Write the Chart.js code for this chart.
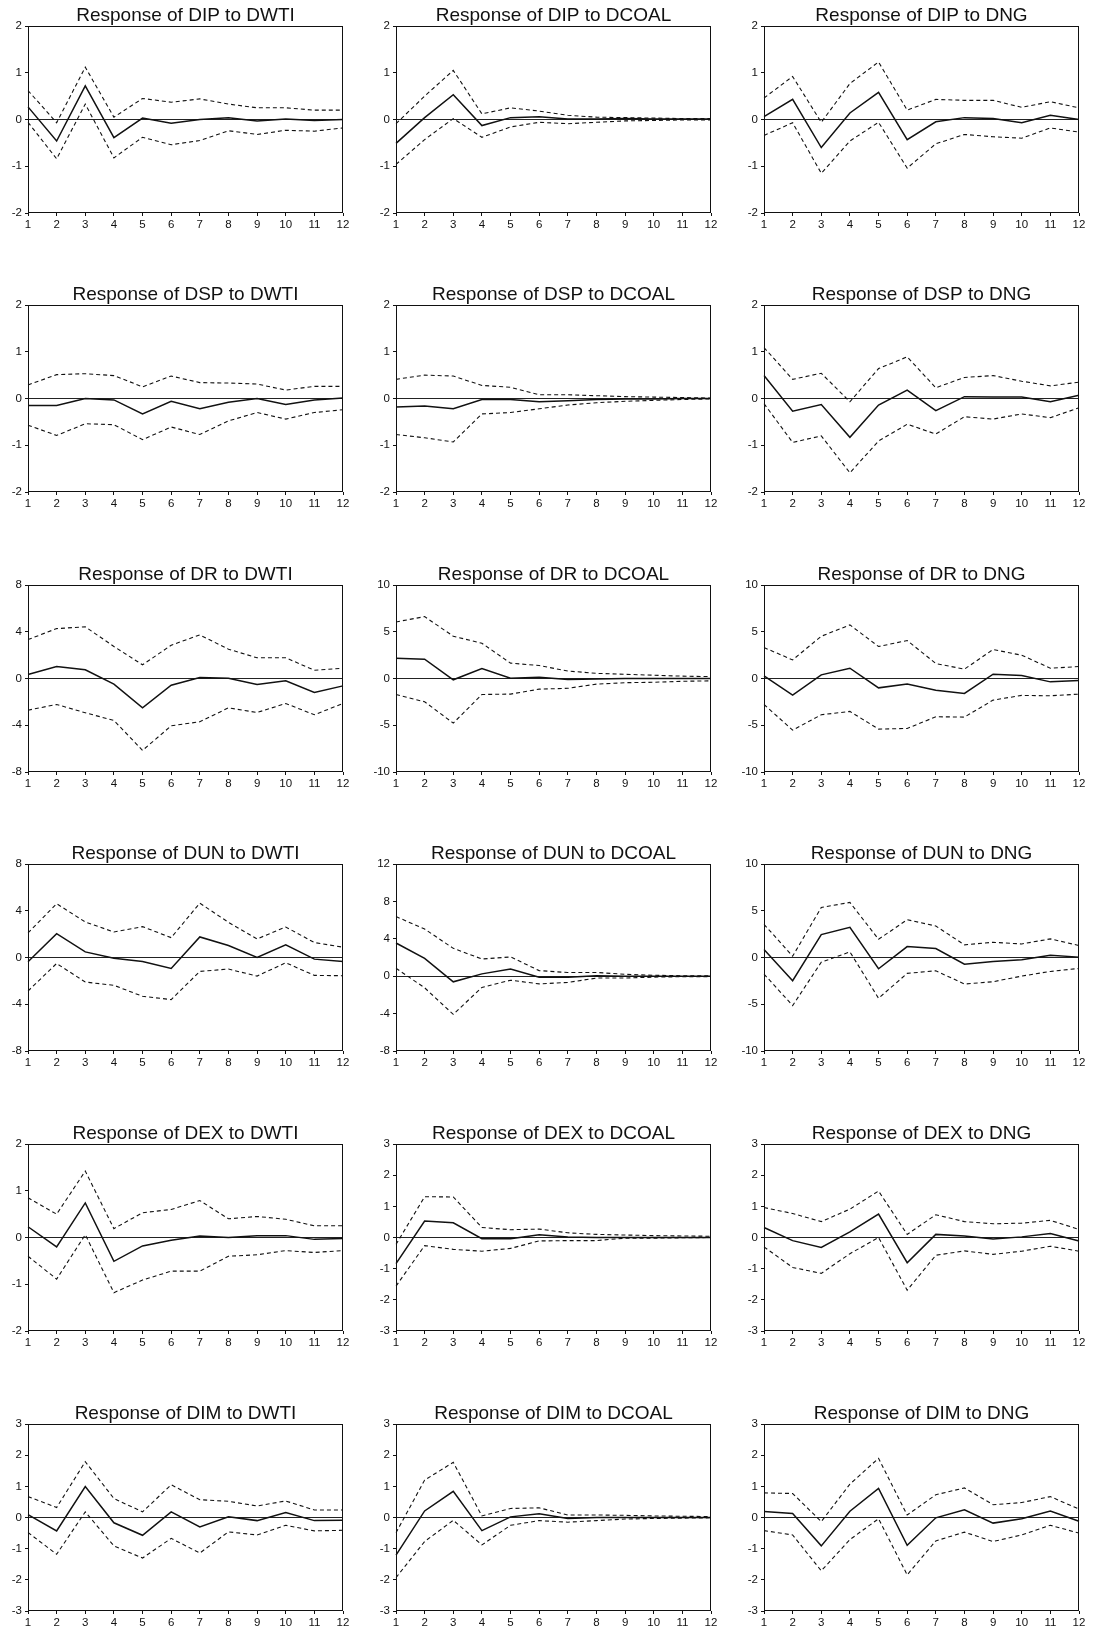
<!DOCTYPE html>
<html>
<head>
<meta charset="utf-8">
<script src="https://cdn.jsdelivr.net/npm/chart.js@4.4.1/dist/chart.umd.min.js"></script>
<style>
  html, body { margin: 0; padding: 0; background: #fff; }
  #page { position: relative; width: 1093px; height: 1631px; overflow: hidden; background: #fff; }
  #page canvas { position: absolute; }
</style>
</head>
<body>
<div id="page"></div>
<script>
// Forecast horizon (periods after the shock)
const HORIZON = ['1', '2', '3', '4', '5', '6', '7', '8', '9', '10', '11', '12'];
const SHOCKS = ['DWTI', 'DCOAL', 'DNG'];
const RESPONSES = ['DIP', 'DSP', 'DR', 'DUN', 'DEX', 'DIM'];

// Impulse responses (IRF) with upper (HI) and lower (LO) +/- 2 S.E. bands
const DIP_DWTI    = [0.27, -0.46, 0.72, -0.39, 0.03, -0.08, 0.00, 0.04, -0.03, 0.01, -0.02, 0.00];
const DIP_DWTI_HI = [0.62, -0.07, 1.12, 0.05, 0.45, 0.37, 0.44, 0.33, 0.25, 0.25, 0.20, 0.20];
const DIP_DWTI_LO = [-0.06, -0.84, 0.33, -0.82, -0.38, -0.54, -0.45, -0.24, -0.32, -0.23, -0.25, -0.18];

const DIP_DCOAL    = [-0.51, 0.04, 0.53, -0.13, 0.04, 0.06, 0.01, 0.01, 0.02, 0.01, 0.01, 0.01];
const DIP_DCOAL_HI = [-0.09, 0.50, 1.05, 0.12, 0.25, 0.18, 0.09, 0.05, 0.04, 0.03, 0.02, 0.02];
const DIP_DCOAL_LO = [-0.96, -0.43, 0.02, -0.38, -0.16, -0.06, -0.09, -0.06, -0.03, -0.02, -0.01, -0.01];

const DIP_DNG    = [0.06, 0.43, -0.60, 0.14, 0.58, -0.43, -0.05, 0.04, 0.02, -0.07, 0.09, 0.00];
const DIP_DNG_HI = [0.46, 0.92, -0.06, 0.77, 1.23, 0.20, 0.43, 0.41, 0.41, 0.26, 0.38, 0.25];
const DIP_DNG_LO = [-0.34, -0.07, -1.15, -0.46, -0.06, -1.04, -0.52, -0.32, -0.37, -0.40, -0.18, -0.27];

const DSP_DWTI    = [-0.15, -0.15, 0.00, -0.03, -0.33, -0.06, -0.22, -0.08, 0.00, -0.13, -0.03, 0.01];
const DSP_DWTI_HI = [0.29, 0.51, 0.53, 0.49, 0.25, 0.48, 0.34, 0.33, 0.31, 0.18, 0.26, 0.26];
const DSP_DWTI_LO = [-0.57, -0.79, -0.54, -0.56, -0.88, -0.61, -0.77, -0.48, -0.30, -0.44, -0.30, -0.24];

const DSP_DCOAL    = [-0.18, -0.16, -0.22, -0.02, -0.02, -0.07, -0.05, -0.02, -0.01, -0.01, 0.00, 0.00];
const DSP_DCOAL_HI = [0.41, 0.50, 0.48, 0.28, 0.24, 0.08, 0.08, 0.06, 0.04, 0.03, 0.02, 0.01];
const DSP_DCOAL_LO = [-0.77, -0.84, -0.93, -0.33, -0.30, -0.22, -0.14, -0.09, -0.06, -0.04, -0.02, -0.01];

const DSP_DNG    = [0.49, -0.27, -0.13, -0.83, -0.14, 0.18, -0.26, 0.04, 0.03, 0.03, -0.07, 0.07];
const DSP_DNG_HI = [1.09, 0.41, 0.54, -0.07, 0.64, 0.89, 0.23, 0.45, 0.49, 0.37, 0.27, 0.35];
const DSP_DNG_LO = [-0.11, -0.94, -0.80, -1.59, -0.91, -0.55, -0.76, -0.39, -0.44, -0.33, -0.41, -0.20];

const DR_DWTI    = [0.34, 1.03, 0.74, -0.48, -2.50, -0.57, 0.09, 0.03, -0.51, -0.20, -1.20, -0.63];
const DR_DWTI_HI = [3.33, 4.27, 4.42, 2.74, 1.17, 2.85, 3.73, 2.51, 1.77, 1.77, 0.71, 0.88];
const DR_DWTI_LO = [-2.71, -2.22, -2.93, -3.59, -6.15, -4.05, -3.70, -2.51, -2.91, -2.14, -3.10, -2.14];

const DR_DCOAL    = [2.17, 2.06, -0.14, 1.07, 0.04, 0.14, -0.12, -0.05, 0.00, 0.00, 0.00, 0.00];
const DR_DCOAL_HI = [6.05, 6.62, 4.52, 3.77, 1.64, 1.39, 0.80, 0.55, 0.45, 0.35, 0.25, 0.20];
const DR_DCOAL_LO = [-1.71, -2.49, -4.77, -1.71, -1.67, -1.14, -1.05, -0.60, -0.45, -0.40, -0.30, -0.25];

const DR_DNG    = [0.28, -1.78, 0.39, 1.10, -1.00, -0.60, -1.25, -1.60, 0.46, 0.32, -0.36, -0.21];
const DR_DNG_HI = [3.31, 1.99, 4.52, 5.73, 3.42, 4.06, 1.60, 1.00, 3.10, 2.49, 1.10, 1.28];
const DR_DNG_LO = [-2.78, -5.52, -3.88, -3.52, -5.41, -5.34, -4.09, -4.13, -2.31, -1.81, -1.85, -1.67];

const DUN_DWTI    = [-0.37, 2.04, 0.48, -0.06, -0.34, -0.94, 1.76, 1.02, 0.00, 1.08, -0.14, -0.34];
const DUN_DWTI_HI = [2.10, 4.60, 3.04, 2.18, 2.64, 1.70, 4.65, 3.01, 1.59, 2.61, 1.28, 0.88];
const DUN_DWTI_LO = [-2.87, -0.51, -2.10, -2.38, -3.32, -3.60, -1.19, -0.99, -1.59, -0.45, -1.53, -1.56];

const DUN_DCOAL    = [3.55, 1.91, -0.60, 0.25, 0.78, -0.11, -0.10, 0.05, 0.00, 0.00, 0.00, 0.00];
const DUN_DCOAL_HI = [6.38, 5.04, 2.98, 1.84, 2.06, 0.60, 0.39, 0.40, 0.20, 0.10, 0.05, 0.05];
const DUN_DCOAL_LO = [0.85, -1.24, -4.08, -1.20, -0.43, -0.82, -0.67, -0.20, -0.20, -0.10, -0.05, -0.05];

const DUN_DNG    = [0.85, -2.48, 2.45, 3.23, -1.20, 1.17, 0.96, -0.71, -0.43, -0.25, 0.25, 0.04];
const DUN_DNG_HI = [3.55, 0.14, 5.35, 5.89, 1.95, 4.04, 3.37, 1.35, 1.63, 1.45, 1.99, 1.28];
const DUN_DNG_LO = [-1.77, -5.14, -0.50, 0.60, -4.36, -1.70, -1.42, -2.84, -2.59, -1.99, -1.49, -1.17];

const DEX_DWTI    = [0.23, -0.20, 0.74, -0.51, -0.18, -0.06, 0.03, 0.00, 0.04, 0.04, -0.04, -0.02];
const DEX_DWTI_HI = [0.85, 0.50, 1.42, 0.19, 0.53, 0.60, 0.79, 0.40, 0.45, 0.39, 0.25, 0.25];
const DEX_DWTI_LO = [-0.40, -0.89, 0.06, -1.18, -0.91, -0.72, -0.72, -0.40, -0.37, -0.28, -0.32, -0.28];

const DEX_DCOAL    = [-0.84, 0.53, 0.47, -0.04, -0.04, 0.09, 0.02, 0.00, 0.00, 0.00, 0.00, 0.00];
const DEX_DCOAL_HI = [-0.22, 1.31, 1.30, 0.32, 0.25, 0.27, 0.15, 0.10, 0.08, 0.06, 0.05, 0.04];
const DEX_DCOAL_LO = [-1.56, -0.26, -0.38, -0.44, -0.35, -0.11, -0.10, -0.10, -0.02, -0.02, -0.01, 0.00];

const DEX_DNG    = [0.32, -0.10, -0.32, 0.18, 0.75, -0.81, 0.10, 0.05, -0.05, 0.02, 0.13, -0.11];
const DEX_DNG_HI = [0.96, 0.77, 0.51, 0.91, 1.49, 0.10, 0.73, 0.51, 0.44, 0.46, 0.55, 0.26];
const DEX_DNG_LO = [-0.30, -0.96, -1.15, -0.52, 0.00, -1.69, -0.57, -0.43, -0.54, -0.44, -0.28, -0.44];

const DIM_DWTI    = [0.09, -0.43, 0.99, -0.17, -0.57, 0.18, -0.30, 0.02, -0.10, 0.16, -0.10, -0.09];
const DIM_DWTI_HI = [0.67, 0.32, 1.79, 0.61, 0.18, 1.05, 0.57, 0.52, 0.37, 0.53, 0.24, 0.24];
const DIM_DWTI_LO = [-0.48, -1.18, 0.18, -0.91, -1.30, -0.67, -1.14, -0.46, -0.56, -0.25, -0.43, -0.41];

const DIM_DCOAL    = [-1.21, 0.21, 0.84, -0.42, 0.02, 0.12, -0.03, 0.00, 0.00, 0.00, 0.00, 0.00];
const DIM_DCOAL_HI = [-0.49, 1.20, 1.77, 0.05, 0.29, 0.31, 0.08, 0.08, 0.07, 0.05, 0.04, 0.03];
const DIM_DCOAL_LO = [-1.93, -0.77, -0.09, -0.88, -0.25, -0.10, -0.15, -0.10, -0.05, -0.03, -0.02, -0.01];

const DIM_DNG    = [0.19, 0.13, -0.91, 0.20, 0.93, -0.89, -0.01, 0.25, -0.18, -0.04, 0.21, -0.12];
const DIM_DNG_HI = [0.79, 0.77, -0.13, 1.07, 1.90, 0.08, 0.73, 0.95, 0.41, 0.48, 0.67, 0.27];
const DIM_DNG_LO = [-0.42, -0.56, -1.71, -0.71, -0.04, -1.84, -0.75, -0.47, -0.77, -0.56, -0.25, -0.50];

// Value-axis tick range for each panel, row by row
const Y_MIN  = [-2, -2, -2,  -2, -2, -2,  -8, -10, -10,  -8, -8, -10,  -2, -3, -3,  -3, -3, -3];
const Y_MAX  = [ 2,  2,  2,   2,  2,  2,   8,  10,  10,   8, 12,  10,   2,  3,  3,   3,  3,  3];
const Y_STEP = [ 1,  1,  1,   1,  1,  1,   4,   5,   5,   4,  4,   5,   1,  1,  1,   1,  1,  1];

// [impulse response, upper band, lower band] per panel, row by row
const SERIES = [
  [DIP_DWTI, DIP_DWTI_HI, DIP_DWTI_LO], [DIP_DCOAL, DIP_DCOAL_HI, DIP_DCOAL_LO], [DIP_DNG, DIP_DNG_HI, DIP_DNG_LO],
  [DSP_DWTI, DSP_DWTI_HI, DSP_DWTI_LO], [DSP_DCOAL, DSP_DCOAL_HI, DSP_DCOAL_LO], [DSP_DNG, DSP_DNG_HI, DSP_DNG_LO],
  [DR_DWTI, DR_DWTI_HI, DR_DWTI_LO],    [DR_DCOAL, DR_DCOAL_HI, DR_DCOAL_LO],    [DR_DNG, DR_DNG_HI, DR_DNG_LO],
  [DUN_DWTI, DUN_DWTI_HI, DUN_DWTI_LO], [DUN_DCOAL, DUN_DCOAL_HI, DUN_DCOAL_LO], [DUN_DNG, DUN_DNG_HI, DUN_DNG_LO],
  [DEX_DWTI, DEX_DWTI_HI, DEX_DWTI_LO], [DEX_DCOAL, DEX_DCOAL_HI, DEX_DCOAL_LO], [DEX_DNG, DEX_DNG_HI, DEX_DNG_LO],
  [DIM_DWTI, DIM_DWTI_HI, DIM_DWTI_LO], [DIM_DCOAL, DIM_DCOAL_HI, DIM_DCOAL_LO], [DIM_DNG, DIM_DNG_HI, DIM_DNG_LO]
];

// ---- page layout ----
const COL_X = [28, 396, 764];                 // left edge of each plot frame
const ROW_Y = [26, 305, 585, 864, 1144, 1424]; // top edge of each plot frame
const PLOT_W = 315, PLOT_H = 187;
const AXIS_W = 30, TITLE_H = 36, XAXIS_H = 24;
const FONT = "'Liberation Sans', Arial, Helvetica, sans-serif";
const INK = '#111';

// closed box around the plotting area
const framePlugin = {
  id: 'frame',
  afterDatasetsDraw(chart) {
    const { ctx, chartArea: a } = chart;
    ctx.save();
    ctx.strokeStyle = INK;
    ctx.lineWidth = 1;
    ctx.strokeRect(Math.round(a.left) + 0.5, Math.round(a.top) + 0.5,
                   Math.round(a.right - a.left) - 1, Math.round(a.bottom - a.top) - 1);
    ctx.restore();
  }
};

const page = document.getElementById('page');

RESPONSES.forEach((resp, r) => {
  SHOCKS.forEach((shock, c) => {
    const i = r * 3 + c;
    const [irf, hi, lo] = SERIES[i];
    const cv = document.createElement('canvas');
    // an empty right-hand axis mirrors the left one so the title sits over the plot centre
    const w = AXIS_W + PLOT_W + AXIS_W, h = TITLE_H + PLOT_H + XAXIS_H;
    cv.width = w; cv.height = h;
    cv.style.width = w + 'px'; cv.style.height = h + 'px';
    cv.style.left = (COL_X[c] - AXIS_W) + 'px';
    cv.style.top = (ROW_Y[r] - TITLE_H) + 'px';
    page.appendChild(cv);

    const band = (data) => ({
      data, borderColor: INK, borderWidth: 1.1, borderDash: [4, 3],
      pointRadius: 0, tension: 0, fill: false
    });

    new Chart(cv, {
      type: 'line',
      data: {
        labels: HORIZON,
        datasets: [
          band(hi),
          { data: irf, borderColor: INK, borderWidth: 1.5, pointRadius: 0, tension: 0, fill: false },
          band(lo)
        ]
      },
      options: {
        responsive: false,
        animation: false,
        events: [],
        layout: { padding: 0 },
        plugins: {
          legend: { display: false },
          tooltip: { enabled: false },
          title: {
            display: true,
            text: 'Response of ' + resp + ' to ' + shock,
            color: INK,
            font: { family: FONT, size: 19, weight: 'normal', lineHeight: 1.0 },
            padding: { top: 16, bottom: 1 }
          }
        },
        scales: {
          x: {
            type: 'category',
            offset: false,
            border: { display: false },
            grid: { drawOnChartArea: false, drawTicks: true, tickLength: 3, tickColor: INK },
            ticks: { color: INK, font: { family: FONT, size: 11.5 }, padding: 2, maxRotation: 0, autoSkip: false },
            afterFit(s) { s.height = XAXIS_H; }
          },
          y: {
            min: Y_MIN[i], max: Y_MAX[i],
            border: { display: false },
            grid: {
              drawTicks: true, tickLength: 3, tickColor: INK,
              color: (ctx) => (ctx.tick && ctx.tick.value === 0) ? '#222' : 'rgba(0,0,0,0)',
              lineWidth: 1
            },
            ticks: { stepSize: Y_STEP[i], color: INK, font: { family: FONT, size: 11.5 }, padding: 3 },
            afterFit(s) { s.width = AXIS_W; }
          },
          yRight: {
            position: 'right',
            min: Y_MIN[i], max: Y_MAX[i],
            border: { display: false },
            grid: { display: false, drawTicks: false },
            ticks: { display: false },
            afterFit(s) { s.width = AXIS_W; }
          }
        }
      },
      plugins: [framePlugin]
    });
  });
});
</script>
</body>
</html>
